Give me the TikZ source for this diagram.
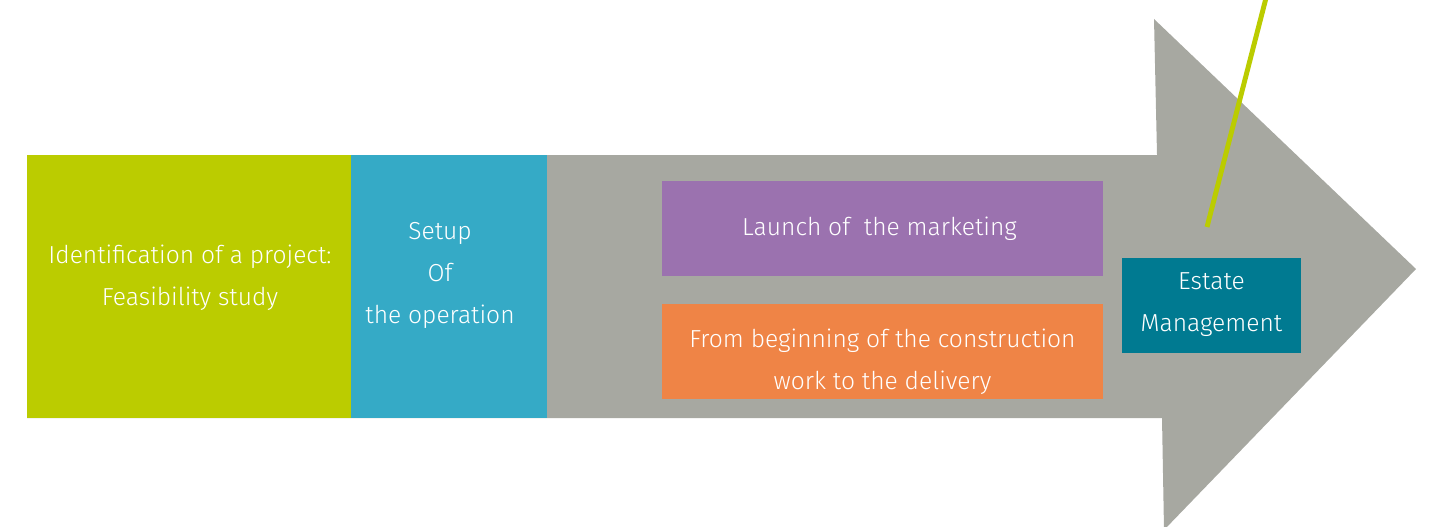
\documentclass[tikz,border=0pt]{standalone}
\usepackage{fontspec}
\setmainfont{Fira Sans Light}
\usetikzlibrary{calc}

\definecolor{stepgreen}{HTML}{BBCC00}
\definecolor{stepblue}{HTML}{35AAC6}
\definecolor{arrowgrey}{HTML}{A7A8A1}
\definecolor{steppurple}{HTML}{9B72AF}
\definecolor{steporange}{HTML}{EF8446}
\definecolor{stepteal}{HTML}{007A91}

\begin{document}
\begin{tikzpicture}[x=0.02cm,y=-0.02cm,
  phase/.style={rectangle,inner sep=0pt,outer sep=0pt},
  phasetext/.style={text=white,align=center,font=\fontsize{14}{24}\selectfont}]
\useasboundingbox (0,0) rectangle (1429,527);

% Arrow
\fill[arrowgrey] (27,155) -- (1157,155) -- (1154,19) -- (1416,269)
  -- (1164,530) -- (1162,418) -- (27,418) -- cycle;

% Phases on the shaft
\node (feasibility) at (189,286.5) [phase,fill=stepgreen,minimum width=6.48cm,minimum height=5.26cm] {};
\node (setup) at (449,286.5) [phase,fill=stepblue,minimum width=3.92cm,minimum height=5.26cm] {};
\node (marketing) at (882.5,228.5) [phase,fill=steppurple,minimum width=8.82cm,minimum height=1.9cm] {};
\node (construction) at (882.5,351.5) [phase,fill=steporange,minimum width=8.82cm,minimum height=1.9cm] {};
\node (estate) at (1211.5,305.5) [phase,fill=stepteal,minimum width=3.58cm,minimum height=1.9cm] {};

% Labels
\node (feasibilitytxt) at ($(feasibility)+(1,-9)$) [phasetext] {Identification of a project:\\Feasibility study};
\node (setuptxt) at ($(setup)+(-9,-11)$) [phasetext] {Setup\\Of\\the operation};
\node (marketingtxt) at ($(marketing)+(-3,0)$) [phasetext] {Launch of~ the marketing};
\node (constructiontxt) at ($(construction)+(0,10)$) [phasetext] {From beginning of the construction\\work to the delivery};
\node (estatetxt) at ($(estate)+(0,-1)$) [phasetext] {Estate\\Management};

% Pointer line
\coordinate (pointera) at (1207,227);
\coordinate (pointerb) at (1266,-2);
\draw[stepgreen,line width=2.8pt] (pointera) -- (pointerb);

\end{tikzpicture}
\end{document}
